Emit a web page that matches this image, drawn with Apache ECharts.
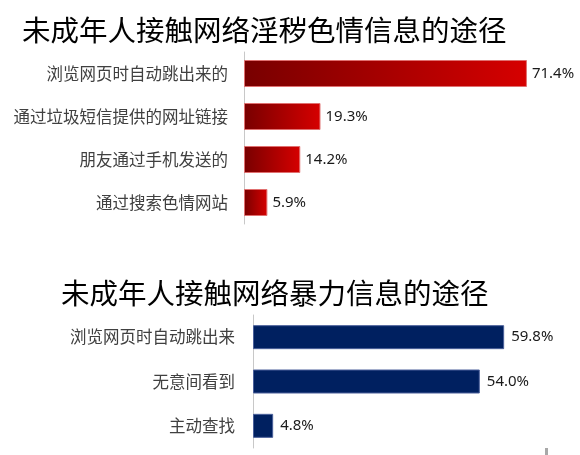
<!DOCTYPE html>
<html>
<head>
<meta charset="utf-8">
<script src="https://cdn.jsdelivr.net/npm/echarts@6/dist/echarts.min.js"></script>
<style>
html,body{margin:0;padding:0;background:#fff;}
#chart{width:580px;height:455px;}
</style>
</head>
<body>
<div id="chart"></div>
<script>
var title1 = '未成年人接触网络淫秽色情信息的途径';
var categories1 = ['浏览网页时自动跳出来的', '通过垃圾短信提供的网址链接', '朋友通过手机发送的', '通过搜索色情网站'];
var values1 = [71.4, 19.3, 14.2, 5.9];

var title2 = '未成年人接触网络暴力信息的途径';
var categories2 = ['浏览网页时自动跳出来', '无意间看到', '主动查找'];
var values2 = [59.8, 54.0, 4.8];

var cjk = '"Noto Sans CJK SC", "Noto Sans", sans-serif';
var chart = echarts.init(document.getElementById('chart'));

var redGrad = new echarts.graphic.LinearGradient(0, 0, 1, 0, [
  {offset: 0, color: '#780000'},
  {offset: 1, color: '#d60000'}
]);

chart.setOption({
  backgroundColor: '#ffffff',
  animation: false,
  title: [
    {text: title1, left: 17, top: 11, textStyle: {fontFamily: cjk, fontSize: 28.5, fontWeight: 'normal', color: '#000'}},
    {text: title2, left: 56, top: 274, textStyle: {fontFamily: cjk, fontSize: 28.5, fontWeight: 'normal', color: '#000'}}
  ],
  grid: [
    {left: 244, top: 52, width: 317, height: 172},
    {left: 253, top: 315, width: 294, height: 133}
  ],
  xAxis: [
    {gridIndex: 0, type: 'value', min: 0, max: 80, show: false},
    {gridIndex: 1, type: 'value', min: 0, max: 70, show: false}
  ],
  yAxis: [
    {gridIndex: 0, type: 'category', data: categories1, inverse: true,
     axisLine: {show: true, lineStyle: {color: '#c8c8c8', width: 1}},
     axisTick: {show: false},
     axisLabel: {margin: 16, fontFamily: cjk, fontSize: 16.5, color: '#404040'}},
    {gridIndex: 1, type: 'category', data: categories2, inverse: true,
     axisLine: {show: true, lineStyle: {color: '#c8c8c8', width: 1}},
     axisTick: {show: false},
     axisLabel: {margin: 18, fontFamily: cjk, fontSize: 16.5, color: '#404040'}}
  ],
  series: [
    {type: 'bar', xAxisIndex: 0, yAxisIndex: 0, data: values1, barWidth: 27,
     itemStyle: {color: redGrad, borderColor: '#e07070', borderWidth: 1},
     label: {show: true, position: 'right', distance: 5, formatter: function(p){return p.value.toFixed(1) + '%';},
             fontFamily: '"Noto Sans", sans-serif', fontSize: 15, color: '#1a1a1a'}},
    {type: 'bar', xAxisIndex: 1, yAxisIndex: 1, data: values2, barWidth: 24,
     itemStyle: {color: '#002060', borderColor: '#4a5f9a', borderWidth: 1},
     label: {show: true, position: 'right', distance: 7, formatter: function(p){return p.value.toFixed(1) + '%';},
             fontFamily: '"Noto Sans", sans-serif', fontSize: 15, color: '#1a1a1a'}}
  ],
  graphic: [
    {type: 'rect', shape: {x: 545, y: 448, width: 3, height: 7}, style: {fill: '#a8a8a8'}}
  ]
});
</script>
</body>
</html>
